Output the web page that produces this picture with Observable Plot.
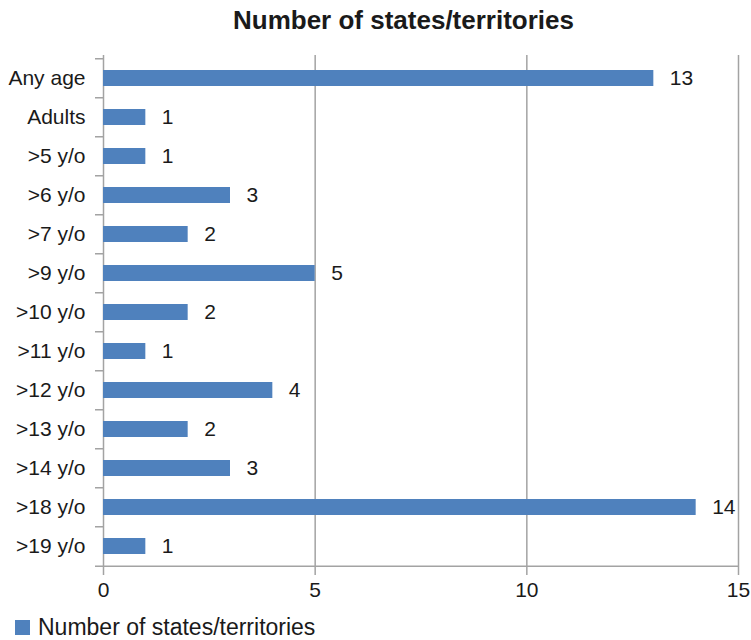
<!DOCTYPE html>
<html>
<head>
<meta charset="utf-8">
<script src="https://cdn.jsdelivr.net/npm/d3@7"></script>
<script src="https://cdn.jsdelivr.net/npm/@observablehq/plot@0.6"></script>
<style>
  body { margin: 0; background: #fff; font-family: "Liberation Sans", Arial, Helvetica, sans-serif; }
  #wrap { width: 751px; position: relative; }
  #title { height: 40px; line-height: 40px; font-weight: bold; font-size: 26px; color: #1a1a1a; text-align: center; padding-left: 56px; box-sizing: border-box; white-space: nowrap; }
  #legend { display: flex; align-items: center; height: 38px; padding-left: 15px; font-size: 23px; line-height: 26px; color: #1a1a1a; box-sizing: border-box; }
  #legend .sw { width: 15px; height: 15px; background: #4f81bd; margin-right: 8px; }
</style>
</head>
<body>
<div id="wrap">
  <div id="title">Number of states/territories</div>
  <div id="chart"></div>
  <div id="legend"><div class="sw"></div><span>Number of states/territories</span></div>
</div>
<script>
const categories = ["Any age", "Adults", ">5 y/o", ">6 y/o", ">7 y/o", ">9 y/o", ">10 y/o", ">11 y/o", ">12 y/o", ">13 y/o", ">14 y/o", ">18 y/o", ">19 y/o"];
const values = [13, 1, 1, 3, 2, 5, 2, 1, 4, 2, 3, 14, 1];
const xTicks = [0, 5, 10, 15];
const seriesName = "Number of states/territories";

const data = categories.map((c, i) => ({category: c, value: values[i]}));

const gray = "#a3a3a3";
const barColor = "#4f81bd";
const plotHeight = 513;
const step = plotHeight / categories.length;

const chart = Plot.plot({
  width: 751,
  height: 568,
  marginTop: 15,
  marginBottom: 40,
  marginLeft: 103,
  marginRight: 13,
  style: {fontFamily: "'Liberation Sans', Arial, Helvetica, sans-serif", fontSize: "21px", color: "#1a1a1a", background: "#fff"},
  x: {domain: [0, 15]},
  y: {domain: categories, paddingInner: 0.6, paddingOuter: 0.3},
  marks: [
    Plot.gridX(xTicks.filter(d => d > 0), {stroke: gray, strokeOpacity: 1, strokeWidth: 1.5}),
    Plot.axisX(xTicks, {stroke: gray, strokeWidth: 1.5, tickSize: 7, tickPadding: 7, fontSize: 21, fill: "#1a1a1a", label: null}),
    Plot.ruleY([0], {x1: 0, x2: 15, y: () => categories[categories.length - 1], dy: step / 2, stroke: gray, strokeWidth: 1.5}),
    Plot.ruleX([0], {stroke: gray, strokeWidth: 1.5}),
    Plot.axisY({tickSize: 8, text: null, dy: -step / 2, stroke: gray, strokeWidth: 1.5, label: null}),
    Plot.axisY({ticks: [categories[categories.length - 1]], tickSize: 8, text: null, dy: step / 2, stroke: gray, strokeWidth: 1.5, label: null}),
    Plot.axisY({tickSize: 0, tickPadding: 18, fontSize: 21, fill: "#1a1a1a", label: null}),
    Plot.barX(data, {x: "value", y: "category", fill: barColor}),
    Plot.text(data, {x: "value", y: "category", text: d => String(d.value), textAnchor: "start", dx: 16, fontSize: 21, fill: "#1a1a1a"})
  ]
});
document.getElementById("chart").appendChild(chart);
</script>
</body>
</html>
